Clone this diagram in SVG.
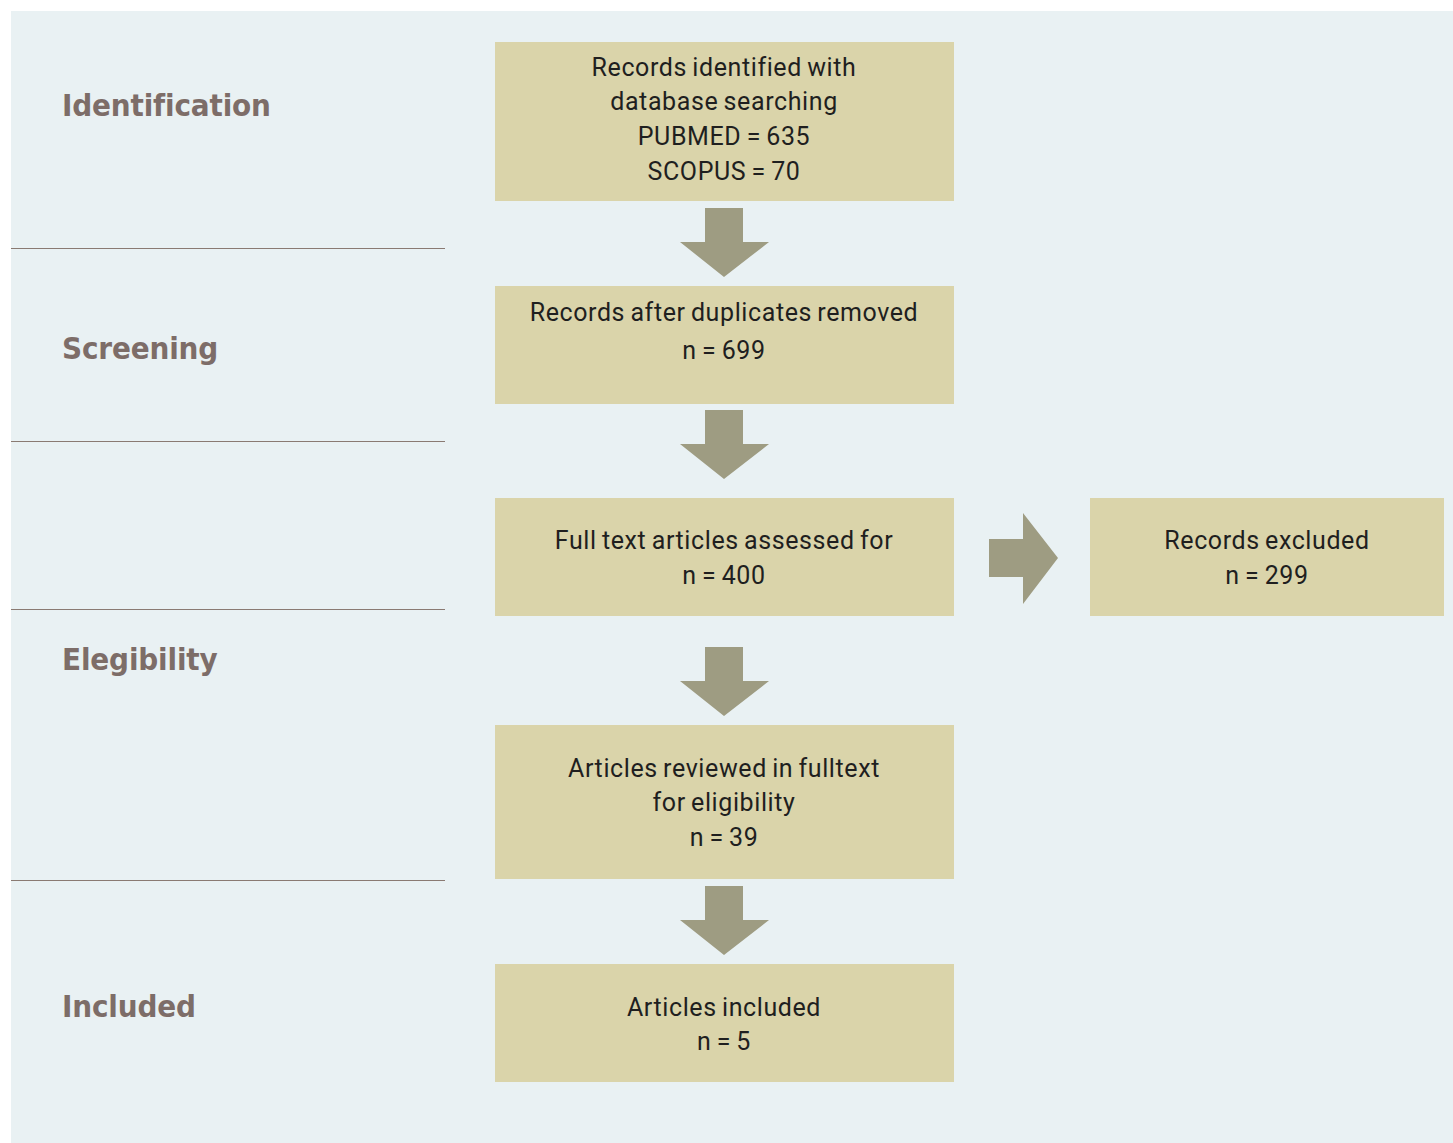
<svg xmlns="http://www.w3.org/2000/svg" width="1453" height="1143" viewBox="0 0 1453 1143">
<style>
.bg{fill:#E9F1F3}
.box{fill:#DAD4AA}
.arr{fill:#9E9C82}
.sep{stroke:#8A7A72;stroke-width:1.2}
.lbl{font-family:"DejaVu Sans Condensed","DejaVu Sans",sans-serif;font-weight:bold;font-size:31px;fill:#7D6D68;letter-spacing:-0.15px}
.t{font-family:Roboto,"Liberation Sans",sans-serif;font-size:25px;fill:#1F1F1F;text-anchor:middle;letter-spacing:0.6px;word-spacing:-1.5px}
</style>
<rect x="0" y="0" width="1453" height="1143" fill="#FFFFFF"/>
<rect class="bg" x="11" y="11" width="1442" height="1132"/>
<g id="stages">
<line class="sep" x1="11" y1="248.5" x2="445" y2="248.5"/>
<line class="sep" x1="11" y1="441.5" x2="445" y2="441.5"/>
<line class="sep" x1="11" y1="609.5" x2="445" y2="609.5"/>
<line class="sep" x1="11" y1="880.5" x2="445" y2="880.5"/>
<text class="lbl" x="62" y="116">Identification</text>
<text class="lbl" x="62" y="359">Screening</text>
<text class="lbl" x="62" y="670">Elegibility</text>
<text class="lbl" x="62" y="1017">Included</text>
</g>
<g id="connectors">
<polygon class="arr" points="705,208 743,208 743,242 769,242 724,277 680,242 705,242"/>
<polygon class="arr" points="705,410 743,410 743,444 769,444 724,479 680,444 705,444"/>
<polygon class="arr" points="705,647 743,647 743,681 769,681 724,716 680,681 705,681"/>
<polygon class="arr" points="705,886 743,886 743,920 769,920 724,955 680,920 705,920"/>
<polygon class="arr" points="989,539 1023,539 1023,513 1058,558 1023,604 1023,577 989,577"/>
</g>
<g id="n1">
<rect class="box" x="495" y="42" width="459" height="159"/>
<text class="t" x="724" y="76">Records identified with</text>
<text class="t" x="724" y="110">database searching</text>
<text class="t" x="724" y="145">PUBMED = 635</text>
<text class="t" x="724" y="180">SCOPUS = 70</text>
</g>
<g id="n2">
<rect class="box" x="495" y="286" width="459" height="118"/>
<text class="t" x="724" y="321">Records after duplicates removed</text>
<text class="t" x="724" y="359">n = 699</text>
</g>
<g id="n3">
<rect class="box" x="495" y="498" width="459" height="118"/>
<text class="t" x="724" y="549">Full text articles assessed for</text>
<text class="t" x="724" y="584">n = 400</text>
</g>
<g id="n4">
<rect class="box" x="1090" y="498" width="354" height="118"/>
<text class="t" x="1267" y="549">Records excluded</text>
<text class="t" x="1267" y="584">n = 299</text>
</g>
<g id="n5">
<rect class="box" x="495" y="725" width="459" height="154"/>
<text class="t" x="724" y="777">Articles reviewed in fulltext</text>
<text class="t" x="724" y="811">for eligibility</text>
<text class="t" x="724" y="846">n = 39</text>
</g>
<g id="n6">
<rect class="box" x="495" y="964" width="459" height="118"/>
<text class="t" x="724" y="1016">Articles included</text>
<text class="t" x="724" y="1050">n = 5</text>
</g>
</svg>
